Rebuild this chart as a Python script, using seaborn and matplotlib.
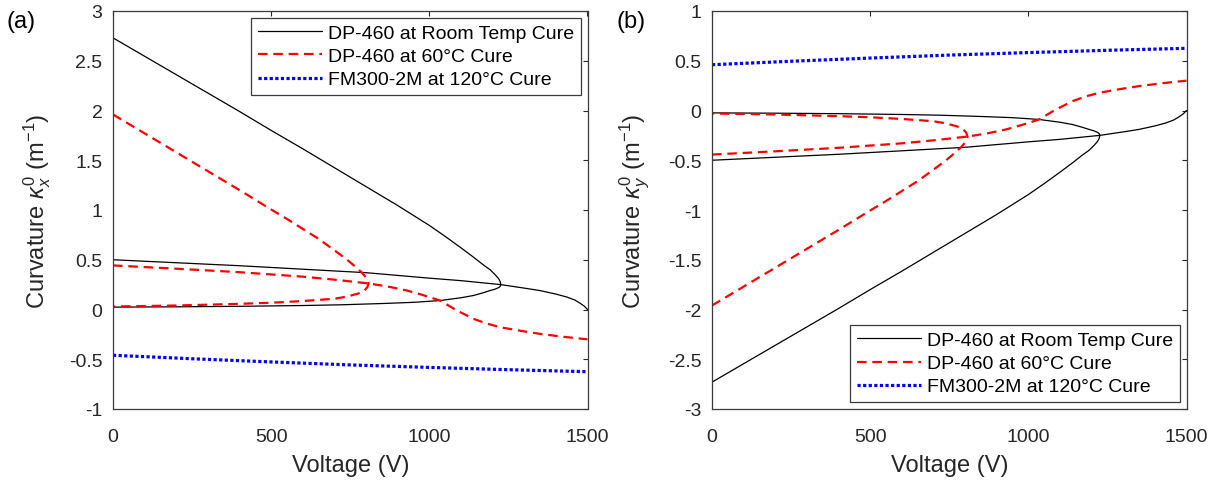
import matplotlib
matplotlib.use("Agg")
import matplotlib.pyplot as plt
from matplotlib.lines import Line2D
import seaborn as sns
import pandas as pd

# ---- data: curvature vs. actuation voltage --------------------------------
materials = ["DP-460 at Room Temp Cure", "DP-460 at 60°C Cure", "FM300-2M at 120°C Cure"]

# (a) kappa_x, DP-460 room temperature cure
rt_x_loop_v = [0, 100, 200, 300, 400, 500, 600, 700, 800, 900, 1000, 1050, 1100, 1140, 1170,
               1192, 1208, 1219, 1224, 1226,
               1224, 1219, 1208, 1192, 1170, 1140, 1100, 1034, 950, 850, 718, 600, 400, 200, 0]
rt_x_loop_k = [2.73, 2.545, 2.36, 2.175, 1.99, 1.80, 1.615, 1.425, 1.235, 1.045, 0.845, 0.735,
               0.62, 0.525, 0.45, 0.40, 0.35, 0.31, 0.28, 0.25,
               0.232, 0.22, 0.205, 0.19, 0.168, 0.141, 0.118, 0.09, 0.072, 0.06, 0.047, 0.04,
               0.032, 0.027, 0.024]
rt_x_mid_v = [0, 200, 400, 600, 800, 1000, 1100, 1226, 1300, 1350, 1400, 1435, 1460, 1477, 1490, 1500]
rt_x_mid_k = [0.50, 0.47, 0.44, 0.405, 0.37, 0.315, 0.29, 0.25, 0.215, 0.19, 0.155, 0.125,
              0.095, 0.062, 0.033, 0.0]

# (a) kappa_x, DP-460 60°C cure
c60_x_loop_v = [0, 100, 200, 300, 400, 500, 550, 600, 650, 700, 740, 770, 790, 803, 808,
                804, 795, 775, 740, 700, 600, 500, 400, 200, 0]
c60_x_loop_k = [1.96, 1.77, 1.58, 1.39, 1.20, 1.005, 0.91, 0.81, 0.71, 0.595, 0.50, 0.42,
                0.36, 0.31, 0.265,
                0.225, 0.19, 0.16, 0.13, 0.108, 0.085, 0.068, 0.057, 0.04, 0.03]
c60_x_mid_v = [0, 200, 400, 600, 700, 808, 870, 930, 980, 1034, 1087, 1140, 1180, 1224,
               1290, 1350, 1420, 1500]
c60_x_mid_k = [0.443, 0.41, 0.375, 0.33, 0.30, 0.262, 0.23, 0.19, 0.145, 0.09, -0.01,
               -0.094, -0.14, -0.178, -0.215, -0.245, -0.273, -0.30]

# (a) kappa_x, FM300-2M 120°C cure
fm_x_v = [0, 250, 500, 750, 1000, 1250, 1500]
fm_x_k = [-0.46, -0.495, -0.527, -0.557, -0.582, -0.605, -0.625]

# (b) kappa_y, DP-460 room temperature cure
rt_y_loop_v = [0, 100, 200, 300, 400, 500, 600, 700, 800, 900, 1000, 1050, 1100, 1140, 1170,
               1192, 1208, 1219, 1224, 1226,
               1224, 1219, 1208, 1192, 1170, 1140, 1100, 1034, 950, 850, 718, 600, 400, 200, 0]
rt_y_loop_k = [-2.73, -2.545, -2.36, -2.175, -1.99, -1.80, -1.615, -1.425, -1.235, -1.045,
               -0.845, -0.735, -0.62, -0.525, -0.45, -0.40, -0.35, -0.31, -0.28, -0.25,
               -0.232, -0.22, -0.205, -0.19, -0.168, -0.141, -0.118, -0.09, -0.072, -0.06,
               -0.047, -0.04, -0.032, -0.027, -0.024]
rt_y_mid_v = [0, 200, 400, 600, 800, 1000, 1100, 1226, 1300, 1350, 1400, 1435, 1460, 1477, 1490, 1500]
rt_y_mid_k = [-0.50, -0.47, -0.44, -0.405, -0.37, -0.315, -0.29, -0.25, -0.215, -0.19,
              -0.155, -0.125, -0.095, -0.062, -0.033, 0.0]

# (b) kappa_y, DP-460 60°C cure
c60_y_loop_v = [0, 100, 200, 300, 400, 500, 550, 600, 650, 700, 740, 770, 790, 803, 808,
                804, 795, 775, 740, 700, 600, 500, 400, 200, 0]
c60_y_loop_k = [-1.96, -1.77, -1.58, -1.39, -1.20, -1.005, -0.91, -0.81, -0.71, -0.595,
                -0.50, -0.42, -0.36, -0.31, -0.265,
                -0.225, -0.19, -0.16, -0.13, -0.108, -0.085, -0.068, -0.057, -0.04, -0.03]
c60_y_mid_v = [0, 200, 400, 600, 700, 808, 870, 930, 980, 1034, 1087, 1140, 1180, 1224,
               1290, 1350, 1420, 1500]
c60_y_mid_k = [-0.443, -0.41, -0.375, -0.33, -0.30, -0.262, -0.23, -0.19, -0.145, -0.09,
               0.01, 0.094, 0.14, 0.178, 0.215, 0.245, 0.273, 0.30]

# (b) kappa_y, FM300-2M 120°C cure
fm_y_v = [0, 250, 500, 750, 1000, 1250, 1500]
fm_y_k = [0.46, 0.495, 0.527, 0.557, 0.582, 0.605, 0.625]

x_ticks = [0, 500, 1000, 1500]
a_y_ticks = [-1, -0.5, 0, 0.5, 1, 1.5, 2, 2.5, 3]
b_y_ticks = [-3, -2.5, -2, -1.5, -1, -0.5, 0, 0.5, 1]


def frame(parts):
    rows = []
    for mat, branch, vs, ks in parts:
        for v, k in zip(vs, ks):
            rows.append({"V": v, "k": k, "material": mat, "branch": branch})
    return pd.DataFrame(rows)


df_a = frame([
    (materials[0], "rt_loop", rt_x_loop_v, rt_x_loop_k),
    (materials[0], "rt_mid", rt_x_mid_v, rt_x_mid_k),
    (materials[1], "c60_loop", c60_x_loop_v, c60_x_loop_k),
    (materials[1], "c60_mid", c60_x_mid_v, c60_x_mid_k),
    (materials[2], "fm", fm_x_v, fm_x_k),
])
df_b = frame([
    (materials[0], "rt_loop", rt_y_loop_v, rt_y_loop_k),
    (materials[0], "rt_mid", rt_y_mid_v, rt_y_mid_k),
    (materials[1], "c60_loop", c60_y_loop_v, c60_y_loop_k),
    (materials[1], "c60_mid", c60_y_mid_v, c60_y_mid_k),
    (materials[2], "fm", fm_y_v, fm_y_k),
])

# ---- styling --------------------------------------------------------------
sns.set_style("white")
plt.rcParams["font.family"] = ["Liberation Sans", "DejaVu Sans"]
plt.rcParams["mathtext.fontset"] = "custom"
plt.rcParams["mathtext.rm"] = "Liberation Sans"
plt.rcParams["mathtext.it"] = "Liberation Sans:italic"
plt.rcParams["axes.unicode_minus"] = False

ink = "#262626"
palette = {materials[0]: "#000000", materials[1]: "#ff0000", materials[2]: "#0000ff"}
widths = {materials[0]: 0.9, materials[1]: 1.6, materials[2]: 2.3}
dashes = {materials[0]: "", materials[1]: (4.3, 2.6), materials[2]: (1.0, 0.75)}

fig = plt.figure(figsize=(12.17, 4.81), dpi=100)
ax_a = fig.add_axes([113 / 1217, 71 / 481, 474.5 / 1217, 398 / 481])
ax_b = fig.add_axes([712 / 1217, 71 / 481, 474.5 / 1217, 398 / 481])


def draw(ax, df, yticks, ylim, ylabel, legend_loc):
    sns.lineplot(data=df, x="V", y="k", hue="material", hue_order=materials,
                 size="material", sizes=widths, style="material", dashes=dashes,
                 units="branch", estimator=None, sort=False, palette=palette,
                 legend=False, ax=ax)
    ax.set_xlim(0, 1500)
    ax.set_ylim(*ylim)
    ax.set_xticks(x_ticks)
    ax.set_yticks(yticks)
    ax.set_xticklabels([f"{t:g}" for t in x_ticks])
    ax.set_yticklabels([f"{t:g}" for t in yticks])
    ax.tick_params(direction="in", top=True, right=True, length=3.8, width=0.8,
                   color=ink, labelcolor=ink, labelsize=14)
    ax.tick_params(axis="y", pad=7.5)
    ax.tick_params(axis="x", pad=13.5)
    for sp in ax.spines.values():
        sp.set_color("#3a3a3a")
        sp.set_linewidth(0.9)
    ax.set_xlabel("Voltage (V)", fontsize=17, color=ink, labelpad=7)
    ax.set_ylabel(ylabel, fontsize=17, color=ink, labelpad=11.5)

    handles = []
    for m in materials:
        h = Line2D([], [], color=palette[m], lw=widths[m])
        if dashes[m]:
            h.set_dashes(dashes[m])
        handles.append(h)
    leg = ax.legend(handles, materials, loc=legend_loc, fontsize=14, frameon=True,
                    fancybox=False, framealpha=1, edgecolor="#3a3a3a",
                    handlelength=3.3, handletextpad=0.3, labelspacing=0.28,
                    borderpad=0.35, borderaxespad=0.35)
    leg.get_frame().set_linewidth(0.9)
    for t in leg.get_texts():
        t.set_color("#000000")


draw(ax_a, df_a, a_y_ticks, (-1, 3), "Curvature $\\kappa_x^0$ (m$^{-1}$)", "upper right")
draw(ax_b, df_b, b_y_ticks, (-3, 1), "Curvature $\\kappa_y^0$ (m$^{-1}$)", "lower right")

fig.text(6 / 1217, 1 - 22 / 481, "(a)", fontsize=17, color="#000000", va="center", ha="left")
fig.text(616 / 1217, 1 - 22 / 481, "(b)", fontsize=17, color="#000000", va="center", ha="left")

fig.savefig("out.png", dpi=100, facecolor="white")
